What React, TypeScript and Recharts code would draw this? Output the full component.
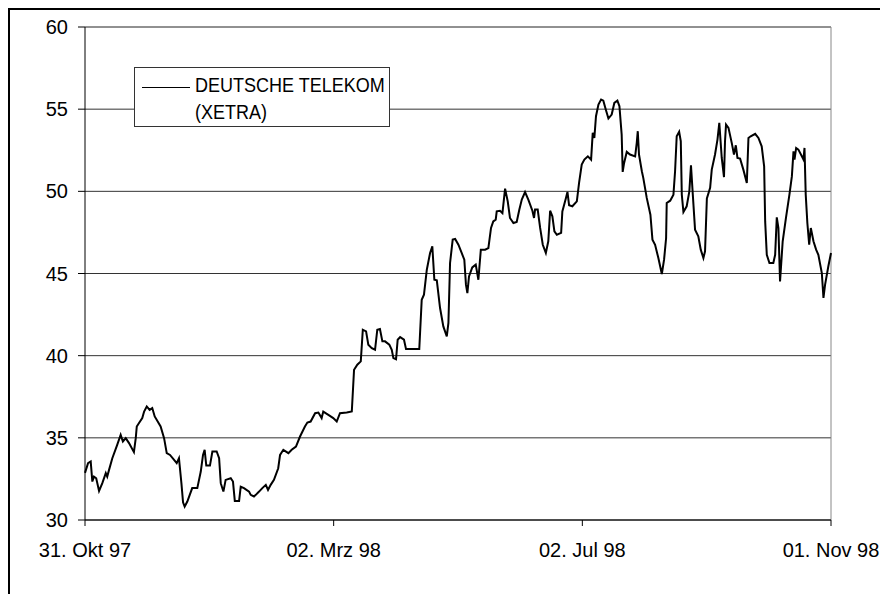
import React from 'react';
import { LineChart, Line, XAxis, YAxis, CartesianGrid, ReferenceLine, Legend } from 'recharts';

// days since 31 Oct 1997
const days = [
  // Nov 97 - Jan 98
  0, 1.5, 2.8, 3.6, 4.4, 5.5, 6.9, 8.5,
  10.2, 10.9, 11.8, 13.4, 15.8, 17.5, 18.6, 20.0,
  21.6, 24.0, 24.9, 25.4, 26.5, 28.1, 29.0, 30.3,
  31.7, 33.0, 34.2, 37.1, 38.8, 40.1, 41.7, 43.7,
  45.0, 46.1, 47.3, 48.1, 48.9, 50.2, 52.6, 55.1,
  56.8, 57.9, 58.7, 59.5, 61.3, 62.5, 64.6, 65.8,
  66.6, 67.9, 69.0, 71.5, 72.6, 73.5, 75.6, 76.4,
  78.0, 80.5, 81.3, 82.9, 83.8, 85.4, 87.0, 88.7,
  89.8, 91.1, 92.7,
  // Feb - Apr 98
  94.8, 95.7, 97.3, 99.8, 101.4, 103.5, 105.5, 107.9,
  109.1, 110.7, 112.9, 114.5, 116.1, 116.9, 119.4, 121.8,
  123.5, 125.1, 128.4, 130.9, 132.0, 133.6, 135.3, 136.3,
  137.9, 139.0, 140.7, 142.3, 143.4, 144.7, 145.9, 147.2,
  149.3, 150.5, 151.3, 152.6, 153.4, 154.6, 156.5, 157.5,
  161.1, 164.0, 165.2, 166.3, 167.7, 169.3, 170.4, 171.4,
  172.6, 174.2, 175.8, 177.5, 178.3, 179.1, 180.4, 181.6,
  // May - Jul 98
  183.2, 184.8, 186.1, 186.9, 187.6, 188.4, 190.0, 191.7,
  193.0, 194.2, 196.3, 197.9, 199.2, 200.3, 201.5, 202.0,
  203.6, 204.8, 206.1, 207.4, 208.5, 210.2, 211.8, 213.1,
  214.3, 215.9, 217.5, 219.5, 220.3, 220.8, 222.1, 223.3,
  224.6, 226.1, 227.3, 228.2, 229.3, 230.3, 231.5, 233.6,
  234.2, 235.9, 236.7, 237.5, 239.1, 241.3, 242.4, 243.7,
  245.0, 246.7, 248.3, 249.1, 249.9, 250.7, 251.9, 253.2,
  254.3, 255.5, 256.8, 258.4, 259.7, 261.2, 262.2, 263.3,
  263.8, 264.5, 265.8, 267.4, 269.9, 270.7, 271.2, 271.8,
  273.2,
  // Aug - Oct 98
  273.9, 275.6, 277.4, 278.4, 279.7, 281.3, 283.0, 284.1,
  285.1, 285.4, 287.1, 288.7, 289.5, 290.3, 291.5, 292.3,
  292.8, 293.6, 295.2, 296.5, 297.3, 298.2, 299.3, 300.9,
  302.1, 303.4, 304.2, 305.1, 306.7, 307.5, 309.1, 310.3,
  311.2, 312.4, 313.5, 314.0, 314.5, 315.7, 317.3, 318.4,
  319.3, 320.1, 321.4, 323.0, 324.7, 325.5, 326.6, 328.8,
  330.4, 332.0, 333.2, 333.7, 334.5, 335.8, 337.7, 338.6,
  339.4, 340.2, 341.0, 342.3, 343.9, 345.6, 346.8, 347.6,
  348.1, 348.9, 350.0, 351.7, 352.5, 353.0, 353.6, 354.4,
  355.3, 356.1, 357.4, 358.7, 359.8, 361.5, 362.3, 363.1,
  364.7, 366,
];

const prices = [
  32.87, 33.46, 33.56, 32.34, 32.64, 32.54, 31.77, 32.24,
  32.85, 32.64, 33.05, 33.76, 34.57, 35.18, 34.78, 34.98,
  34.68, 34.13, 34.98, 35.69, 35.90, 36.20, 36.60, 36.91,
  36.70, 36.81, 36.30, 35.69, 34.98, 34.07, 33.96, 33.66,
  33.46, 33.76, 32.24, 31.08, 30.82, 31.12, 31.94, 31.94,
  32.95, 33.96, 34.27, 33.31, 33.31, 34.17, 34.17, 33.76,
  32.24, 31.73, 32.44, 32.54, 32.34, 31.16, 31.16, 32.03,
  31.94, 31.73, 31.53, 31.43, 31.53, 31.73, 31.94, 32.14,
  31.83, 32.14, 32.44,

  33.15, 33.96, 34.27, 34.07, 34.27, 34.47, 35.08, 35.69,
  35.93, 35.99, 36.50, 36.54, 36.20, 36.60, 36.40, 36.20,
  35.99, 36.50, 36.54, 36.60, 39.14, 39.45, 39.65, 41.58,
  41.48, 40.67, 40.46, 40.36, 41.58, 41.62, 40.87, 40.87,
  40.67, 40.36, 39.85, 39.78, 40.97, 41.13, 40.97, 40.40,
  40.40, 40.40, 43.40, 43.71, 45.23, 46.25, 46.65, 44.62,
  44.58, 42.90, 41.78, 41.17, 41.99, 45.64, 47.06, 47.10,

  46.75, 46.25, 45.84, 44.32, 43.81, 44.82, 45.37, 45.54,
  44.62, 46.45, 46.45, 46.55, 47.77, 48.17, 48.28, 48.78,
  48.82, 48.68, 50.16, 49.39, 48.38, 48.07, 48.13, 48.89,
  49.50, 49.96, 49.50, 48.82, 48.38, 48.89, 48.89, 47.77,
  46.75, 46.25, 46.96, 48.82, 48.48, 47.57, 47.36, 47.47,
  48.78, 49.57, 49.96, 49.15, 49.09, 49.39, 50.51, 51.63,
  51.93, 52.13, 51.93, 53.56, 53.25, 54.57, 55.28, 55.59,
  55.52, 54.98, 54.43, 54.67, 55.38, 55.52, 55.18, 53.45,
  51.18, 51.73, 52.40, 52.24, 52.13, 52.95, 53.66, 52.24,
  51.22,

  50.82, 49.60, 48.58, 47.06, 46.75, 45.94, 44.97, 45.84,
  47.16, 49.29, 49.43, 49.80, 51.22, 53.35, 53.62, 53.05,
  49.80, 48.74, 49.09, 50.00, 51.58, 49.80, 47.67, 47.26,
  46.45, 45.94, 46.35, 49.57, 50.21, 51.32, 52.24, 53.15,
  54.17, 52.03, 50.86, 53.05, 54.06, 53.86, 52.95, 52.24,
  52.80, 52.03, 51.99, 51.32, 50.51, 53.25, 53.35, 53.50,
  53.25, 52.74, 51.52, 48.17, 46.14, 45.64, 45.64, 46.14,
  48.42, 47.77, 44.52, 46.96, 48.38, 49.80, 50.91, 52.43,
  51.93, 52.64, 52.54, 52.13, 51.93, 52.64, 49.80, 48.07,
  46.75, 47.77, 46.96, 46.45, 46.14, 45.03, 43.51, 44.32,
  45.44, 46.25,
];

const xTicks = [0, 122, 244, 366];
const xTickLabels = ['31. Okt 97', '02. Mrz 98', '02. Jul 98', '01. Nov 98'];
const yTicks = [30, 35, 40, 45, 50, 55, 60];
const legendLines = ['DEUTSCHE TELEKOM', '(XETRA)'];

const data = days.map((day, i) => ({ day, price: prices[i] }));

const FONT = '"Liberation Sans", Arial, sans-serif';
const tickStyle = { fill: '#000', fontSize: 20, fontFamily: FONT };

function LegendBox() {
  return (
    <div
      style={{
        position: 'relative',
        width: 256,
        height: 60,
        boxSizing: 'border-box',
        border: '1px solid #333',
        background: '#fff',
        fontFamily: FONT,
        fontSize: 18,
        color: '#000',
      }}
    >
      <div style={{ position: 'absolute', left: 7, top: 19, width: 48, borderTop: '1.5px solid #000' }} />
      <div
        style={{
          position: 'absolute',
          left: 60,
          top: 3,
          lineHeight: '24px',
          whiteSpace: 'nowrap',
          transform: 'scaleY(1.15)',
          transformOrigin: 'left top',
        }}
      >
        {legendLines.map((t) => (
          <div key={t}>{t}</div>
        ))}
      </div>
    </div>
  );
}

export default function App() {
  return (
    <div style={{ position: 'relative', width: 880, height: 594, overflow: 'hidden' }}>
      <style>{'html, body { margin: 0; padding: 0; overflow: hidden; }'}</style>
      <div
        style={{
          position: 'absolute',
          left: 8,
          top: 8,
          right: 0,
          bottom: 0,
          borderLeft: '2px solid #000',
          borderTop: '2px solid #000',
        }}
      />
      <div style={{ position: 'absolute', left: 0, top: 0 }}>
        <LineChart width={880} height={580} data={data} margin={{ top: 27, right: 49, bottom: 30, left: 25 }}>
          <CartesianGrid horizontal vertical={false} stroke="#333" />
          <ReferenceLine y={60} stroke="#888" />
          <ReferenceLine x={366} stroke="#888" />
          <XAxis
            dataKey="day"
            type="number"
            domain={[0, 366]}
            ticks={xTicks}
            interval={0}
            height={30}
            tickFormatter={(v) => xTickLabels[xTicks.indexOf(v)]}
            tick={tickStyle}
            tickSize={6}
            tickMargin={17}
            axisLine={{ stroke: '#000' }}
            tickLine={{ stroke: '#000' }}
          />
          <YAxis
            type="number"
            domain={[30, 60]}
            ticks={yTicks}
            interval={0}
            width={60}
            tick={tickStyle}
            tickSize={7}
            tickMargin={10}
            axisLine={{ stroke: '#000' }}
            tickLine={{ stroke: '#000' }}
          />
          <Legend
            layout="vertical"
            align="center"
            verticalAlign="middle"
            content={() => <LegendBox />}
            wrapperStyle={{ left: 134, top: 67, width: 256 }}
          />
          <Line
            type="linear"
            dataKey="price"
            name="DEUTSCHE TELEKOM (XETRA)"
            stroke="#000"
            strokeWidth={2}
            dot={false}
            activeDot={false}
            isAnimationActive={false}
          />
        </LineChart>
      </div>
    </div>
  );
}
